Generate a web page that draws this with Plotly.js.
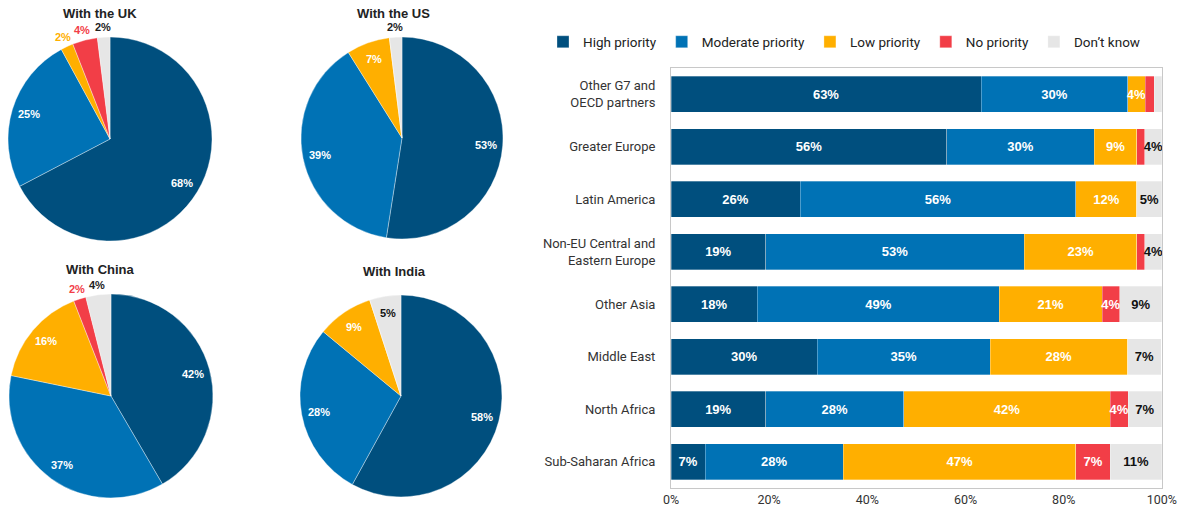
<!DOCTYPE html>
<html>
<head>
<meta charset="utf-8">
<script src="https://cdn.plot.ly/plotly-3.0.1.min.js"></script>
<style>html,body{margin:0;padding:0;background:#fff;}#chart{width:1183px;height:512px;}</style>
</head>
<body>
<div id="chart"></div>
<script>
// ---- Bar chart data (regions) ----
const categories = ['Other G7 and<br>OECD partners', 'Greater Europe', 'Latin America',
  'Non-EU Central and<br>Eastern Europe', 'Other Asia', 'Middle East', 'North Africa', 'Sub-Saharan Africa'];
const seriesNames = ['High priority', 'Moderate priority', 'Low priority', 'No priority', 'Don\u2019t know'];
const high     = [63.2, 56.2, 26.3, 19.3, 17.6, 29.8, 19.3, 7.0];
const moderate = [29.8, 30.0, 56.2, 52.7, 49.3, 35.2, 28.1, 28.1];
const low      = [3.6, 8.7, 12.4, 22.9, 20.9, 28.0, 42.1, 47.4];
const noPrio   = [1.8, 1.6, 0, 1.6, 3.6, 0, 3.6, 7.0];
const dontKnow = [1.6, 3.5, 5.1, 3.5, 8.6, 6.9, 6.9, 10.5];
const xTickVals = [0, 20, 40, 60, 80, 100];
const xTickText = ['0%', '20%', '40%', '60%', '80%', '100%'];

// ---- Pie chart data ----
const pieTitles = ['With the UK', 'With the US', 'With China', 'With India'];
const ukValues    = [68, 25, 2, 4, 2];
const usValues    = [53, 39, 7, 0, 2];
const chinaValues = [42, 37, 16, 2, 4];
const indiaValues = [58, 28, 9, 0, 5];

const W = 1183, H = 512;
const colors = ['#004F7E', '#0072B5', '#FFAF00', '#F23E47', '#E6E6E6'];
const labelColors = ['#ffffff', '#ffffff', '#ffffff', '#ffffff', '#111111'];
const labelFontFamily = 'Liberation Sans, Arial, sans-serif';

const barSeries = [high, moderate, low, noPrio, dontKnow];
const traces = [];
barSeries.forEach((vals, i) => {
  traces.push({
    type: 'bar', orientation: 'h', name: seriesNames[i],
    y: categories, x: vals,
    xaxis: 'x', yaxis: 'y',
    marker: {color: colors[i], line: {color: 'rgba(255,255,255,0.5)', width: 0.6}},
    text: vals.map(v => v >= 3 ? Math.round(v) + '%' : ''),
    textposition: 'inside', insidetextanchor: 'middle', constraintext: 'none', textangle: 0,
    textfont: {family: labelFontFamily, size: 13, color: labelColors[i], weight: 'bold'},
    hoverinfo: 'name+x', cliponaxis: false
  });
});

const pies = [
  {values: ukValues, title: pieTitles[0], domain: {x: [0.0068, 0.1792], y: [0.5293, 0.9277]},
   outside: [false, false, true, true, true], titlePos: [100, 13]},
  {values: usValues, title: pieTitles[1], domain: {x: [0.2544, 0.4252], y: [0.5332, 0.9277]},
   outside: [false, false, false, true, true], titlePos: [393, 13]},
  {values: chinaValues, title: pieTitles[2], domain: {x: [0.0076, 0.1800], y: [0.0273, 0.4258]},
   outside: [false, false, false, true, true], titlePos: [100, 269]},
  {values: indiaValues, title: pieTitles[3], domain: {x: [0.2536, 0.4243], y: [0.0293, 0.4238]},
   outside: [false, false, false, true, false], titlePos: [394, 271]}
];
const outsideColors = ['#004F7E', '#0072B5', '#FFAF00', '#F23E47', '#222222'];

const annotations = [];
const titleFont = {family: labelFontFamily, size: 13, color: '#222', weight: 'bold'};

pies.forEach(p => {
  traces.push({
    type: 'pie', labels: seriesNames, values: p.values,
    domain: p.domain, sort: false, direction: 'clockwise', rotation: 0,
    showlegend: false, textinfo: 'none',
    marker: {colors: colors, line: {color: 'rgba(255,255,255,0.6)', width: 0.6}},
    automargin: false, hoverinfo: 'label+value'
  });
  annotations.push({text: p.title, xref: 'paper', yref: 'paper', x: p.titlePos[0] / W, y: 1 - p.titlePos[1] / H,
    xanchor: 'center', yanchor: 'middle', showarrow: false, font: titleFont});
  // slice labels placed from the slice angles
  const cx = (p.domain.x[0] + p.domain.x[1]) / 2 * W;
  const cy = (1 - (p.domain.y[0] + p.domain.y[1]) / 2) * H;
  const R = Math.min((p.domain.x[1] - p.domain.x[0]) * W, (p.domain.y[1] - p.domain.y[0]) * H) / 2;
  const total = p.values.reduce((a, b) => a + b, 0);
  let cum = 0;
  p.values.forEach((v, i) => {
    const theta = 2 * Math.PI * (cum + v / 2) / total;
    cum += v;
    if (v <= 0) return;
    const rr = R * (p.outside[i] ? 1.1 : 0.83);
    const px = cx + rr * Math.sin(theta);
    const py = cy - rr * Math.cos(theta);
    annotations.push({
      text: v + '%', xref: 'paper', yref: 'paper', x: px / W, y: 1 - py / H,
      xanchor: 'center', yanchor: 'middle', showarrow: false,
      font: {family: labelFontFamily, size: 11, weight: 'bold',
        color: p.outside[i] ? outsideColors[i] : labelColors[i]}
    });
  });
});

const layout = {
  width: W, height: H,
  margin: {l: 0, r: 0, t: 0, b: 0},
  paper_bgcolor: '#fff', plot_bgcolor: '#fff',
  font: {family: 'Roboto, sans-serif', size: 12, color: '#333'},
  barmode: 'stack', bargap: 0.305,
  xaxis: {
    domain: [671 / W, 1162 / W], range: [0, 100.02],
    tickmode: 'array', tickvals: xTickVals, ticktext: xTickText,
    showgrid: false, zeroline: false,
    showline: true, mirror: true, linecolor: '#c8c8c8', linewidth: 1,
    ticks: '', tickfont: {size: 12.5, color: '#333'}, fixedrange: true
  },
  yaxis: {
    domain: [24 / H, 444 / H], autorange: 'reversed',
    showgrid: false, zeroline: false, showline: true, mirror: true,
    linecolor: '#c8c8c8', linewidth: 1, ticks: '', ticklabelstandoff: 12,
    tickfont: {size: 13, color: '#333'}, fixedrange: true
  },
  legend: {
    orientation: 'h', x: 543 / W, xanchor: 'left', y: 1 - 42 / H, yanchor: 'middle',
    font: {size: 13.5, color: '#222'}, traceorder: 'normal', bgcolor: 'rgba(0,0,0,0)'
  },
  annotations: annotations
};

Plotly.newPlot('chart', traces, layout, {displayModeBar: false, staticPlot: true});
</script>
</body>
</html>
